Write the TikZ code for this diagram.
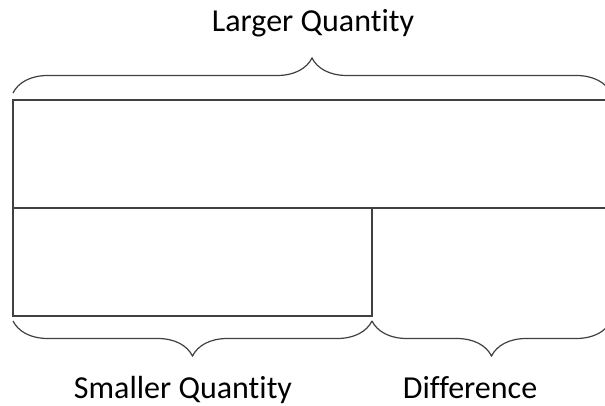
\documentclass[tikz,border=0pt]{standalone}
\usepackage{fontspec}
\setmainfont{Carlito}[Ligatures={NoCommon}]
\usepackage{tikz}
\usetikzlibrary{decorations.pathreplacing}

\begin{document}
\begin{tikzpicture}[
    x=1pt, y=-1pt,
    bar/.style={draw=black!75, line width=1.2pt, inner sep=0pt, outer sep=0pt, anchor=north west},
    curly/.style={draw=black!75, line width=1.2pt, decorate, decoration={brace, amplitude=35pt}},
    label/.style={anchor=base, font=\fontsize{32}{34}\selectfont}
]
  \useasboundingbox (0,0) rectangle (605,406);
  \clip (0,0) rectangle (605,406);

  \node[bar, minimum width=598pt, minimum height=108pt] (larger) at (13,100) {};
  \node[bar, minimum width=359pt, minimum height=108pt] (smaller) at (13,208) {};

  % braces
  \coordinate (topL) at (13,93);
  \coordinate (topR) at (611,93);
  \coordinate (botL) at (13,321);
  \coordinate (botM) at (372,321);
  \coordinate (botR) at (611,321);
  \draw[curly] (topL) -- (topR);
  \draw[curly] (botM) -- (botL);
  \draw[curly] (botR) -- (botM);

  \node[label] (largerlbl) at (313,32) {Larger Quantity};
  \node[label] (smallerlbl) at (183,398) {Smaller Quantity};
  \node[label] (difflbl) at (470,398) {Difference};
\end{tikzpicture}
\end{document}
